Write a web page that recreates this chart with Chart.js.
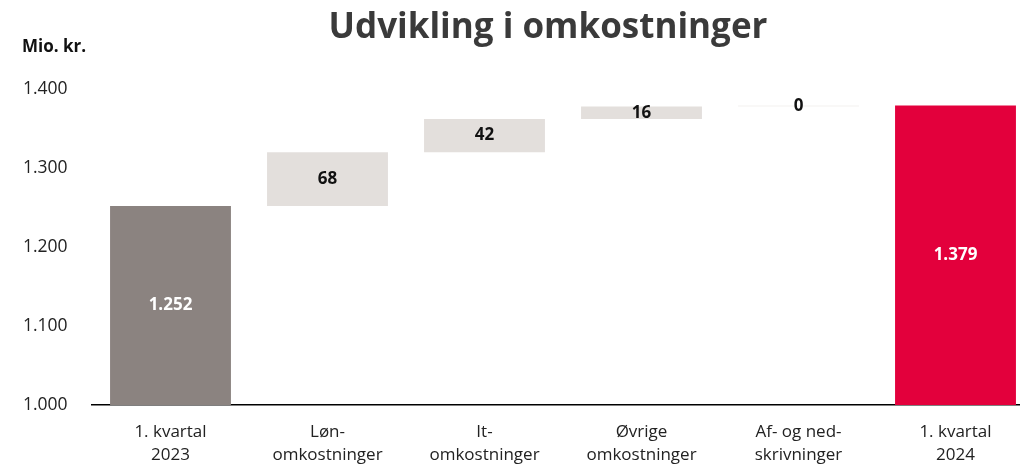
<!DOCTYPE html>
<html>
<head>
<meta charset="utf-8">
<script src="https://cdn.jsdelivr.net/npm/chart.js@4/dist/chart.umd.min.js"></script>
<style>
  html, body { margin: 0; padding: 0; background: #fff; overflow: hidden; }
  #wrap { width: 1034px; height: 465px; position: relative; }
</style>
</head>
<body>
<div id="wrap"><canvas id="chart"></canvas></div>
<script>
// Data
const categories = [
    ['1. kvartal', '2023'],
    ['Løn-', 'omkostninger'],
    ['It-', 'omkostninger'],
    ['Øvrige', 'omkostninger'],
    ['Af- og ned-', 'skrivninger'],
    ['1. kvartal', '2024']
];
const barStart = [1000, 1252, 1320, 1362, 1378, 1000];
const barEnd = [1252, 1320, 1362, 1378, 1379, 1379];
const barLabels = ['1.252', '68', '42', '16', '0', '1.379'];
const yTicks = [1000, 1100, 1200, 1300, 1400];

const barColors = ['#8b8380', '#e3dfdc', '#e3dfdc', '#e3dfdc', '#f3f1f0', '#e3003c'];
const labelColors = ['#ffffff', '#111111', '#111111', '#111111', '#111111', '#ffffff'];
const FONT = '"Open Sans", sans-serif';

// Title, unit label and bar values
const textPlugin = {
    id: 'texts',
    afterDatasetsDraw(chart) {
        const ctx = chart.ctx;
        ctx.save();
        ctx.fillStyle = '#3a3a3a';
        ctx.font = 'bold 35px ' + FONT;
        ctx.textAlign = 'center';
        ctx.textBaseline = 'middle';
        ctx.fillText('Udvikling i omkostninger', 548, 28);

        ctx.fillStyle = '#111';
        ctx.font = 'bold 17px ' + FONT;
        ctx.textAlign = 'left';
        ctx.fillText('Mio. kr.', 22, 47);

        const meta = chart.getDatasetMeta(0);
        meta.data.forEach((bar, i) => {
            const props = bar.getProps(['x', 'y', 'base'], true);
            ctx.fillStyle = labelColors[i];
            ctx.font = 'bold 17px ' + FONT;
            ctx.textAlign = 'center';
            ctx.fillText(barLabels[i], props.x, (props.y + props.base) / 2);
        });
        ctx.restore();
    }
};

new Chart(document.getElementById('chart'), {
    type: 'bar',
    data: {
        labels: categories,
        datasets: [{
            data: barStart.map((s, i) => [s, barEnd[i]]),
            backgroundColor: barColors,
            borderWidth: 0,
            barPercentage: 0.77,
            categoryPercentage: 1
        }]
    },
    options: {
        responsive: true,
        maintainAspectRatio: false,
        animation: false,
        layout: { padding: { top: 89, left: 23, right: 0, bottom: 0 } },
        plugins: {
            legend: { display: false },
            tooltip: { enabled: false }
        },
        scales: {
            x: {
                grid: { display: false },
                border: { display: true, color: '#000', width: 1.5 },
                afterFit(scale) { scale.height = 60; },
                ticks: {
                    color: '#222',
                    font: { family: FONT, size: 17, lineHeight: 1.35 },
                    maxRotation: 0,
                    autoSkip: false,
                    padding: 8
                }
            },
            y: {
                min: 1000,
                max: 1400,
                grid: { display: false },
                border: { display: false },
                afterFit(scale) { scale.width = 69; },
                afterBuildTicks(scale) { scale.ticks = yTicks.map(v => ({ value: v })); },
                ticks: {
                    color: '#222',
                    crossAlign: 'far',
                    font: { family: FONT, size: 17.5 },
                    callback: v => v.toLocaleString('de-DE')
                }
            }
        }
    },
    plugins: [textPlugin]
});
</script>
</body>
</html>
